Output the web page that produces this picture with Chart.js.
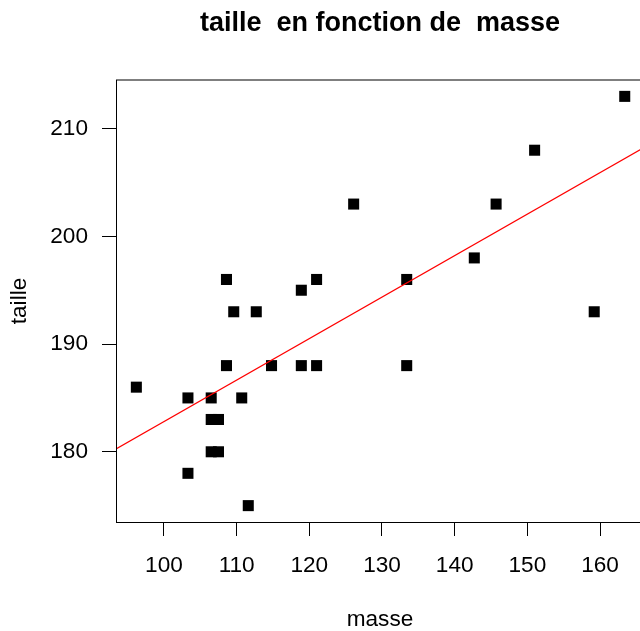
<!DOCTYPE html>
<html>
<head>
<meta charset="utf-8">
<script src="https://cdn.jsdelivr.net/npm/chart.js@4"></script>
<style>
  html, body { margin: 0; padding: 0; background: #fff; overflow: hidden; width: 640px; height: 631px; }
  canvas { display: block; }
</style>
</head>
<body>
<canvas id="c" width="660" height="631"></canvas>
<script>
// Observations: mass (x) and height (y)
const masse  = [96.2, 103.3, 103.3, 106.5, 106.5, 107.5, 106.5, 107.5, 108.6, 108.6, 109.6, 110.7, 111.6, 112.7,
                114.8, 118.9, 118.9, 121.0, 121.0, 126.1, 133.4, 133.4, 142.7, 145.7, 151.0, 159.2, 163.4];
const taille = [186, 185, 178, 185, 183, 183, 180, 180, 196, 188, 193, 185, 175, 193,
                188, 195, 188, 196, 188, 203, 196, 188, 198, 203, 208, 193, 213];

// Axis ticks and limits
const xTicks = [100, 110, 120, 130, 140, 150, 160];
const yTicks = [180, 190, 200, 210];
const xLimits = [93.4, 166.05];
const yLimits = [173.48, 214.52];

// Ordinary least-squares line taille = a + b * masse
function leastSquares(xs, ys) {
  const n = xs.length;
  const mx = xs.reduce((s, v) => s + v, 0) / n;
  const my = ys.reduce((s, v) => s + v, 0) / n;
  let sxy = 0, sxx = 0;
  for (let i = 0; i < n; i++) {
    sxy += (xs[i] - mx) * (ys[i] - my);
    sxx += (xs[i] - mx) * (xs[i] - mx);
  }
  const b = sxy / sxx;
  return { a: my - b * mx, b };
}
const reg = leastSquares(masse, taille);
const regLine = xLimits.map(x => ({ x, y: reg.a + reg.b * x }));

const baseFont = { family: "'Liberation Sans', Arial, sans-serif", size: 22.6 };

// Frame around the plotting region
const framePlugin = {
  id: 'frame',
  afterDraw(chart) {
    const { ctx, chartArea: a } = chart;
    ctx.save();
    ctx.strokeStyle = '#000';
    ctx.lineWidth = 1;
    ctx.strokeRect(a.left + 0.5, a.top, a.right - a.left, a.bottom - a.top + 0.5);
    ctx.restore();
  }
};

new Chart(document.getElementById('c'), {
  data: {
    datasets: [
      {
        type: 'line',
        data: regLine,
        borderColor: '#ff0000',
        borderWidth: 1.2,
        pointRadius: 0,
        fill: false,
        order: 0
      },
      {
        type: 'scatter',
        data: masse.map((x, i) => ({ x, y: taille[i] })),
        pointStyle: 'rect',
        pointRadius: 7.8,
        backgroundColor: '#000',
        borderWidth: 0,
        order: 1
      }
    ]
  },
  options: {
    responsive: false,
    animation: false,
    events: [],
    layout: { padding: { left: 0, right: 16, top: 0, bottom: 0 } },
    plugins: {
      legend: { display: false },
      tooltip: { enabled: false },
      title: {
        display: true,
        text: 'taille  en fonction de  masse',
        fullSize: false,
        color: '#000',
        font: { family: baseFont.family, size: 27, weight: 'bold', lineHeight: 1.2 },
        padding: { top: 7.7, bottom: 39.9 }
      }
    },
    scales: {
      x: {
        type: 'linear',
        min: xLimits[0],
        max: xLimits[1],
        afterBuildTicks: s => { s.ticks = xTicks.map(v => ({ value: v })); },
        afterFit: s => { s.height = 109; },
        border: { display: false },
        grid: { drawOnChartArea: false, drawTicks: true, tickLength: 14, tickColor: '#000', tickWidth: 1 },
        ticks: { color: '#000', font: { ...baseFont, lineHeight: 1.2 }, padding: 16.5, maxRotation: 0, autoSkip: false },
        title: { display: true, text: 'masse', color: '#000', font: { ...baseFont, lineHeight: 1 }, padding: { top: 0, bottom: 0 } }
      },
      y: {
        type: 'linear',
        min: yLimits[0],
        max: yLimits[1],
        afterBuildTicks: s => { s.ticks = yTicks.map(v => ({ value: v })); },
        afterFit: s => { s.width = 116; },
        border: { display: false },
        grid: { drawOnChartArea: false, drawTicks: true, tickLength: 14, tickColor: '#000', tickWidth: 1 },
        ticks: { color: '#000', font: { ...baseFont, lineHeight: 1.2 }, padding: 14, autoSkip: false },
        title: { display: true, text: 'taille', color: '#000', font: { ...baseFont, lineHeight: 1.2 }, padding: { top: 6.5, bottom: 0 } }
      }
    }
  },
  plugins: [framePlugin]
});
</script>
</body>
</html>
